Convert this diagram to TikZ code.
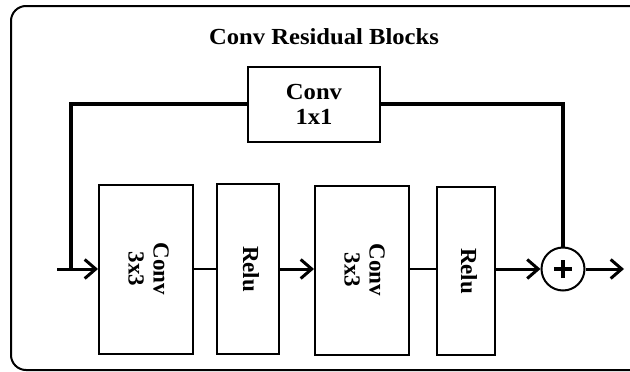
\documentclass[tikz,border=0pt]{standalone}
\usepackage{fontspec}
\setmainfont{Liberation Serif}
\usetikzlibrary{arrows.meta}
\newcommand{\vlabel}[1]{\rotatebox{-90}{\begin{tabular}{@{}c@{}}#1\end{tabular}}}
\begin{document}
\begin{tikzpicture}[x=1pt,y=-1pt,
  font=\fontsize{23}{25}\selectfont\bfseries,
  block/.style={rectangle,draw,line width=2pt,inner sep=0pt},
  wide text/.style={xscale=1.07},
  link/.style={line width=2.5pt},
  skip link/.style={line width=3.5pt},
  arrow link/.style={line width=3pt,-{Straight Barb[length=11pt,width=19pt]}}]

  \useasboundingbox (0,0) rectangle (630,372);
  % outer frame, open at the right
  \draw[line width=2pt,rounded corners=15pt] (631,6) -- (11,6) -- (11,370) -- (631,370);

  \node[wide text] (title) at (324,37) {Conv Residual Blocks};

  \node[block,wide text,minimum width=123,minimum height=75,align=center] (conv1) at (314,104) {Conv\\1x1};
  \node[block,minimum width=94,minimum height=169] (conv3a) at (146,269) {\vlabel{Conv\\3x3}};
  \node[block,minimum width=62,minimum height=170] (relua) at (248,269) {\vlabel{Relu}};
  \node[block,minimum width=94,minimum height=169] (conv3b) at (362,270) {\vlabel{Conv\\3x3}};
  \node[block,minimum width=58,minimum height=168] (relub) at (466,271) {\vlabel{Relu}};
  \node[circle,draw,line width=2pt,minimum size=43,inner sep=0pt] (add) at (563,269) {};
  \draw[line width=3.5pt] ([xshift=-9]add.center) -- ([xshift=9]add.center)
    ([yshift=-9]add.center) -- ([yshift=9]add.center);

  \coordinate (in) at (57,269);
  \coordinate (split) at (71,269);
  \coordinate (out) at (624,269);

  \draw[arrow link] (in) -- (conv3a.west |- in);
  \draw[link] (conv3a.east |- in) -- (relua.west |- in);
  \draw[arrow link] (relua.east |- in) -- (conv3b.west |- in);
  \draw[link] (conv3b.east |- in) -- (relub.west |- in);
  \draw[arrow link] (relub.east |- in) -- (add.west);
  \draw[arrow link] (add.east) -- (out);

  \draw[skip link] (split) |- (conv1.west);
  \draw[skip link] (conv1.east) -| (add.north);
\end{tikzpicture}
\end{document}
